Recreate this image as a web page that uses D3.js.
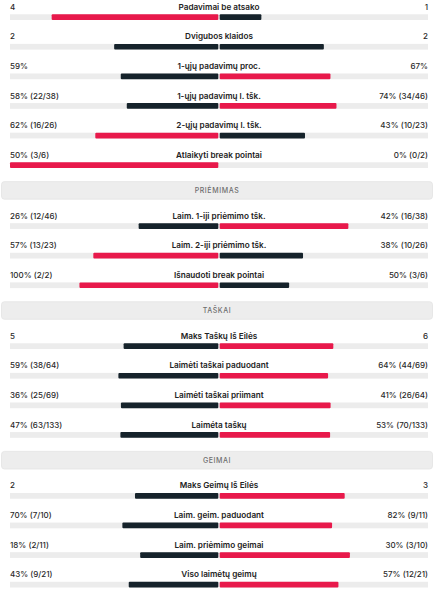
<!DOCTYPE html>
<html>
<head>
<meta charset="utf-8">
<script src="https://cdn.jsdelivr.net/npm/d3@7"></script>
<style>
  body { margin: 0; background: #fff; }
  svg { display: block; font-family: Inter, "Noto Sans", sans-serif; }
</style>
</head>
<body>
<div id="chart"></div>
<script>
const labels = [
  "Padavimai be atsako", "Dvigubos klaidos", "1-ųjų padavimų proc.",
  "1-ųjų padavimų l. tšk.", "2-ųjų padavimų l. tšk.", "Atlaikyti break pointai",
  "Laim. 1-iji priėmimo tšk.", "Laim. 2-iji priėmimo tšk.", "Išnaudoti break pointai",
  "Maks Taškų Iš Eilės", "Laimėti taškai paduodant", "Laimėti taškai priimant", "Laiméta taškų",
  "Maks Geimų Iš Eilės", "Laim. geim. paduodant", "Laim. priėmimo geimai", "Viso laimėtų geimų"
]
const leftText = [
  "4", "2", "59%", "58% (22/38)", "62% (16/26)", "50% (3/6)",
  "26% (12/46)", "57% (13/23)", "100% (2/2)",
  "5", "59% (38/64)", "36% (25/69)", "47% (63/133)",
  "2", "70% (7/10)", "18% (2/11)", "43% (9/21)"
]
const rightText = [
  "1", "2", "67%", "74% (34/46)", "43% (10/23)", "0% (0/2)",
  "42% (16/38)", "38% (10/26)", "50% (3/6)",
  "6", "64% (44/69)", "41% (26/64)", "53% (70/133)",
  "3", "82% (9/11)", "30% (3/10)", "57% (12/21)"
]
const leftValues = [4, 2, 59, 58, 62, 50, 26, 57, 100, 5, 59, 36, 47, 2, 70, 18, 43]
const rightValues = [1, 2, 67, 74, 43, 0, 42, 38, 50, 6, 64, 41, 53, 3, 82, 30, 57]
const groups = [0, 0, 0, 0, 0, 0, 1, 1, 1, 2, 2, 2, 2, 3, 3, 3, 3]
const groupTitles = ["", "PRIĖMIMAS", "TAŠKAI", "GEIMAI"]

const width = 434, height = 590
const red = "#e8194b", dark = "#16232b", track = "#ececec"
const left = 10, right = 428, mid = 219, gap = 0.7
const half = mid - gap - left

const svg = d3.select("#chart").append("svg")
  .attr("width", width)
  .attr("height", height)

// vertical placement: one step per row, extra step per section header
const rowY = d3.scaleLinear().domain([0, 1]).range([6.7, 6.7 + 29.6])
const yOf = i => rowY(i) + groups[i] * 31.3

// section headers
groupTitles.forEach(function(t, g){
  if (!t) return
  let first = groups.indexOf(g)
  let top = yOf(first) - 34
  svg.append("rect")
    .attr("x", 1.5).attr("y", top)
    .attr("width", width - 3).attr("height", 17.6)
    .attr("rx", 3)
    .attr("fill", "#ededed")
    .attr("stroke", "#e3e3e3")
    .attr("stroke-width", 0.8)
  svg.append("text")
    .attr("x", width / 2).attr("y", top + 8.8)
    .attr("text-anchor", "middle")
    .attr("dominant-baseline", "central")
    .attr("font-size", 7)
    .attr("font-weight", 500)
    .attr("letter-spacing", 0.6)
    .attr("fill", "#6e6e6e")
    .text(t)
})

const rows = svg.selectAll("g.row")
  .data(labels.map((l, i) => i))
  .enter().append("g")
  .attr("class", "row")
  .attr("transform", i => `translate(0, ${yOf(i)})`)

rows.append("text")
  .attr("x", left).attr("y", 0)
  .attr("dominant-baseline", "central")
  .attr("font-size", 8)
  .attr("font-weight", 500)
  .attr("fill", "#2a2a2a")
  .text(i => leftText[i])

rows.append("text")
  .attr("x", right).attr("y", 0)
  .attr("text-anchor", "end")
  .attr("dominant-baseline", "central")
  .attr("font-size", 8)
  .attr("font-weight", 500)
  .attr("fill", "#2a2a2a")
  .text(i => rightText[i])

rows.append("text")
  .attr("x", mid).attr("y", 0)
  .attr("text-anchor", "middle")
  .attr("dominant-baseline", "central")
  .attr("font-size", 8.2)
  .attr("font-weight", 600)
  .attr("fill", "#222")
  .text(i => labels[i])

rows.append("rect")
  .attr("x", left).attr("y", 7.6)
  .attr("width", right - left).attr("height", 5.7)
  .attr("fill", track)

function barColor(i, side){
  let a = leftValues[i], b = rightValues[i]
  if (a === b) return dark
  if (side === "l") return a > b ? red : dark
  return b > a ? red : dark
}

rows.each(function(i){
  let g = d3.select(this)
  let x = d3.scaleLinear().domain([0, leftValues[i] + rightValues[i]]).range([0, half])
  let wl = x(leftValues[i]), wr = x(rightValues[i])
  if (wl > 0) g.append("rect")
    .attr("x", mid - gap - wl).attr("y", 7.6)
    .attr("width", wl).attr("height", 5.7)
    .attr("rx", 1)
    .attr("fill", barColor(i, "l"))
  if (wr > 0) g.append("rect")
    .attr("x", mid + gap).attr("y", 7.6)
    .attr("width", wr).attr("height", 5.7)
    .attr("rx", 1)
    .attr("fill", barColor(i, "r"))
})
</script>
</body>
</html>
